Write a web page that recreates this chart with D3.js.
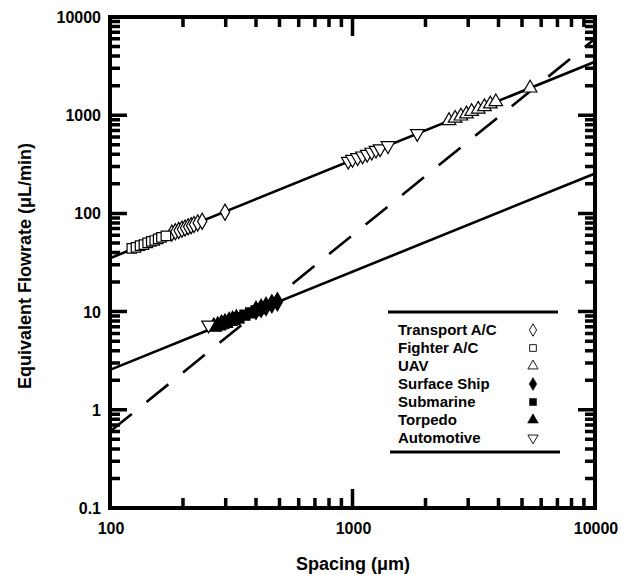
<!DOCTYPE html>
<html>
<head>
<meta charset="utf-8">
<script src="https://cdn.jsdelivr.net/npm/d3@7"></script>
<style>
body{margin:0;background:#fff;}
text{font-family:"Liberation Sans",Arial,sans-serif;font-weight:bold;fill:#000;}
</style>
</head>
<body>
<svg id="svg" width="621" height="575"></svg>
<script>
// series: spacing (um) and equivalent flowrate (uL/min)
var transportX = [180,186,192,198,204,210,216,222,230,240,298];
var transportY = [63,65,67,69,71,73,75,77,80,83,103];
var fighterX = [123,128,133,138,143,148,153,158,163,170];
var fighterY = [44,45,47,48,50,52,53,55,57,59];
var uavX = [2500,2650,2800,2950,3100,3300,3500,3700,3900,5400];
var uavY = [880,930,980,1030,1090,1150,1220,1300,1370,1890];
var shipX = [400,420,440,465,490];
var shipY = [10.3,10.8,11.3,12.0,12.6];
var subX = [290,305,320,340,360,380,400,420];
var subY = [7.5,7.8,8.2,8.7,9.2,9.7,10.2,10.7];
var torpedoX = [268,278,288,298,310,320,332];
var torpedoY = [7.0,7.2,7.5,7.7,8.0,8.2,8.5];
var autoX = [255,960,1000,1050,1100,1150,1200,1250,1300,1400,1850];
var autoY = [7.3,340,355,370,385,400,420,440,455,490,650];

// fitted lines, end points in data units
var upperLine = [[100,35],[10000,3500]];
var lowerLine = [[100,2.55],[10000,255]];
var dashLine = [[100,0.6],[10000,6000]];

var xTicks = [100,1000,10000];
var xMinor = [200,300,400,500,600,700,800,900,2000,3000,4000,5000,6000,7000,8000,9000];
var yTicks = [0.1,1,10,100,1000,10000];
var yMinor = [0.2,0.3,0.4,0.5,0.6,0.7,0.8,0.9,2,3,4,5,6,7,8,9,20,30,40,50,60,70,80,90,
	200,300,400,500,600,700,800,900,2000,3000,4000,5000,6000,7000,8000,9000];
var legendNames = ["Transport A/C","Fighter A/C","UAV","Surface Ship","Submarine","Torpedo","Automotive"];

var svg = d3.select("#svg");
var pL = 110, pR = 595, pT = 17, pB = 508;

var xs = d3.scaleLog().domain([100,10000]).range([pL,pR]);
var ys = d3.scaleLog().domain([0.1,10000]).range([pB,pT]);

var series = [
	{xv:transportX, yv:transportY, sym:d3.symbolDiamond, size:75, fill:false, rot:0},
	{xv:fighterX, yv:fighterY, sym:d3.symbolSquare, size:90, fill:false, rot:0},
	{xv:uavX, yv:uavY, sym:d3.symbolTriangle, size:80, fill:false, rot:0},
	{xv:shipX, yv:shipY, sym:d3.symbolDiamond, size:95, fill:true, rot:0},
	{xv:subX, yv:subY, sym:d3.symbolSquare, size:100, fill:true, rot:0},
	{xv:torpedoX, yv:torpedoY, sym:d3.symbolTriangle, size:100, fill:true, rot:0},
	{xv:autoX, yv:autoY, sym:d3.symbolTriangle, size:80, fill:false, rot:180}
];

// ticks, pointing inward on all four sides
var tk = d3.path();
function addTick(x1,y1,x2,y2){ tk.moveTo(x1,y1); tk.lineTo(x2,y2); }
xTicks.forEach(function(d){ addTick(xs(d),pB,xs(d),pB-19); addTick(xs(d),pT,xs(d),pT+19); });
xMinor.forEach(function(d){ addTick(xs(d),pB,xs(d),pB-10); addTick(xs(d),pT,xs(d),pT+10); });
yTicks.forEach(function(d){ addTick(pL,ys(d),pL+17,ys(d)); addTick(pR,ys(d),pR-17,ys(d)); });
yMinor.forEach(function(d){ addTick(pL,ys(d),pL+10,ys(d)); addTick(pR,ys(d),pR-10,ys(d)); });
svg.append("path").attr("class","ticks").attr("d",tk.toString())
	.attr("fill","none").attr("stroke","#000").attr("stroke-width",3.5);

var lineGen = d3.line().x(function(d){return xs(d[0]);}).y(function(d){return ys(d[1]);});
var plot = svg.append("g");
plot.append("path").attr("d",lineGen(upperLine)).attr("fill","none").attr("stroke","#000").attr("stroke-width",2.6);
plot.append("path").attr("d",lineGen(lowerLine)).attr("fill","none").attr("stroke","#000").attr("stroke-width",2.6);
plot.append("path").attr("d",lineGen(dashLine)).attr("fill","none").attr("stroke","#000").attr("stroke-width",2.6)
	.attr("stroke-dasharray","28,19");

// markers
series.forEach(function(s){
	var pts = s.xv.map(function(v,i){return [v,s.yv[i]];});
	plot.selectAll(null).data(pts).enter().append("path")
		.attr("d",d3.symbol().type(s.sym).size(s.size))
		.attr("transform",function(d){return "translate("+xs(d[0])+","+ys(d[1])+") rotate("+s.rot+")";})
		.attr("fill",s.fill?"#000":"#fff")
		.attr("stroke","#000").attr("stroke-width",1.2);
});

svg.append("rect").attr("x",pL).attr("y",pT).attr("width",pR-pL).attr("height",pB-pT)
	.attr("fill","none").attr("stroke","#000").attr("stroke-width",4);

// tick labels
svg.selectAll(".xl").data(xTicks).enter().append("text")
	.attr("x",function(d){return xs(d)+1;}).attr("y",534)
	.attr("text-anchor","middle").style("font-size","16px").text(function(d){return d;});
svg.selectAll(".yl").data(yTicks).enter().append("text")
	.attr("x",101).attr("y",function(d){return ys(d)+6;})
	.attr("text-anchor","end").style("font-size","16px").text(function(d){return d;});

// axis titles
svg.append("text").attr("x",353).attr("y",570).attr("text-anchor","middle")
	.style("font-size","18px").text("Spacing (\u03bcm)");
svg.append("text").attr("transform","translate(31,266) rotate(-90)").attr("text-anchor","middle")
	.style("font-size","18px").text("Equivalent Flowrate (\u03bcL/min)");

// legend
var lg = svg.append("g");
lg.append("line").attr("x1",388).attr("x2",558).attr("y1",312).attr("y2",312).attr("stroke","#000").attr("stroke-width",3);
lg.append("line").attr("x1",390).attr("x2",560).attr("y1",452).attr("y2",452).attr("stroke","#000").attr("stroke-width",3);
series.forEach(function(s,i){
	var yy = 330 + i*18;
	lg.append("text").attr("x",398).attr("y",yy+5).style("font-size","15px").text(legendNames[i]);
	lg.append("path").attr("d",d3.symbol().type(s.sym).size(s.fill?50:45))
		.attr("transform","translate(533,"+yy+") rotate("+s.rot+")")
		.attr("fill",s.fill?"#000":"#fff").attr("stroke","#000").attr("stroke-width",s.fill?0.5:0.9);
});
</script>
</body>
</html>
